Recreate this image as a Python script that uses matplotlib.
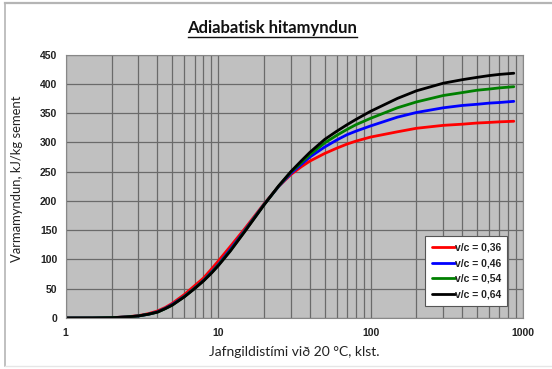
import matplotlib.pyplot as plt
from matplotlib.lines import Line2D
import numpy as np

# jafngildistími (klst.)
t = [1, 1.5, 2, 2.5, 3, 3.5, 4, 4.5, 5, 6, 7, 8, 9, 10, 12, 15, 20, 25, 30,
     35, 40, 50, 60, 70, 80, 100, 150, 200, 300, 400, 500, 600, 700, 870]

q036 = [0, 0.1, 0.5, 2, 4, 7.5, 12, 18, 25, 40, 55, 68, 83, 97, 122, 153, 195,
        225, 245, 258, 268, 281, 290, 297, 302, 309, 318, 324, 329, 331, 333,
        334, 335, 336]
q046 = [0, 0.1, 0.5, 1.8, 3.5, 6.5, 10.5, 16.5, 23, 37, 51, 64, 78, 91, 117,
        150, 194, 225, 247, 262, 275, 292, 304, 313, 319, 328, 343, 351, 359,
        363, 365, 367, 368, 370]
q054 = [0, 0.1, 0.5, 1.8, 3.5, 6.5, 10, 16, 22, 36.5, 50.5, 63.5, 77, 90, 115,
        149, 193.5, 225.5, 249, 265, 279, 299, 312, 322, 330, 341, 359, 369,
        380, 385, 389, 391, 393, 395]
q064 = [0, 0.1, 0.5, 1.8, 3.5, 6.5, 10, 16, 22, 36, 50, 63, 76, 89, 114, 148,
        193, 226, 250, 268, 283, 305, 319, 330, 339, 353, 375, 388, 401, 407,
        411, 414, 416, 418]

series = [(q036, "red", "v/c = 0,36"),
          (q046, "blue", "v/c = 0,46"),
          (q054, "green", "v/c = 0,54"),
          (q064, "black", "v/c = 0,64")]

fig = plt.figure(figsize=(5.52, 3.69), dpi=100)
ax = fig.add_axes([0.1190, 0.1382, 0.8285, 0.7141])
ax.set_facecolor("#c0c0c0")

for q, c, lab in series:
    ax.plot(t, q, color=c, lw=2.0, label=lab, solid_capstyle="round",
            solid_joinstyle="round")

ax.set_xscale("log")
ax.set_xlim(1, 1000)
ax.set_ylim(0, 450)
ax.set_yticks(np.arange(0, 451, 50))
ax.set_xticks([1, 10, 100, 1000])
ax.set_xticklabels(["1", "10", "100", "1000"])
ax.grid(True, which="both", axis="x", color="#6a6a6a", lw=0.9)
ax.grid(True, which="major", axis="y", color="#6a6a6a", lw=0.9)
ax.set_axisbelow(True)
ax.tick_params(which="both", length=0)
ax.tick_params(axis="y", pad=6)
ax.tick_params(axis="x", pad=7)
for lbl in ax.get_xticklabels() + ax.get_yticklabels():
    lbl.set_fontfamily("Liberation Sans")
    lbl.set_fontweight("bold")
    lbl.set_fontsize(7.5)
    lbl.set_color("#222222")
for s in ax.spines.values():
    s.set_color("#888888")
    s.set_linewidth(0.8)

ax.set_xlabel("Jafngildistími við 20 °C, klst.", fontfamily="Lato",
              fontsize=10, color="#222222", labelpad=6)
ax.set_ylabel("Varmamyndun, kJ/kg sement", fontfamily="Lato",
              fontsize=9.4, color="#222222", labelpad=8)
ax.yaxis.set_label_coords(-0.093, 0.53)

leg = ax.legend(loc="lower right", bbox_to_anchor=(0.965, 0.046),
                borderaxespad=0,
                prop={"family": "Liberation Sans", "weight": "bold", "size": 7.5},
                fancybox=False, framealpha=1, edgecolor="#555555",
                handlelength=2.2, handletextpad=0.0, labelspacing=0.55,
                borderpad=0.6)
leg.get_frame().set_linewidth(0.8)
for txt in leg.get_texts():
    txt.set_color("#222222")

title = fig.text(0.4937, 0.924, "Adiabatisk hitamyndun", ha="center",
                 va="center", fontfamily="Lato", fontweight="bold",
                 fontsize=12, color="#111111")
fig.canvas.draw()
bb = title.get_window_extent().transformed(fig.transFigure.inverted())
fig.add_artist(Line2D([bb.x0, bb.x1], [bb.y0 - 0.002, bb.y0 - 0.002],
                      transform=fig.transFigure, color="#111111", lw=1.0))

# outer frame of the picture
fig.add_artist(Line2D([5 / 552, 1.0], [1 - 2.5 / 369, 1 - 2.5 / 369],
                      transform=fig.transFigure, color="#b5b5b5", lw=1.6))
fig.add_artist(Line2D([5 / 552, 5 / 552], [1 - 2.5 / 369, 3 / 369],
                      transform=fig.transFigure, color="#b5b5b5", lw=1.2))
fig.add_artist(Line2D([5 / 552, 1.0], [3 / 369, 3 / 369],
                      transform=fig.transFigure, color="#e6e6e6", lw=1.0))

fig.savefig("out.png", dpi=100)
